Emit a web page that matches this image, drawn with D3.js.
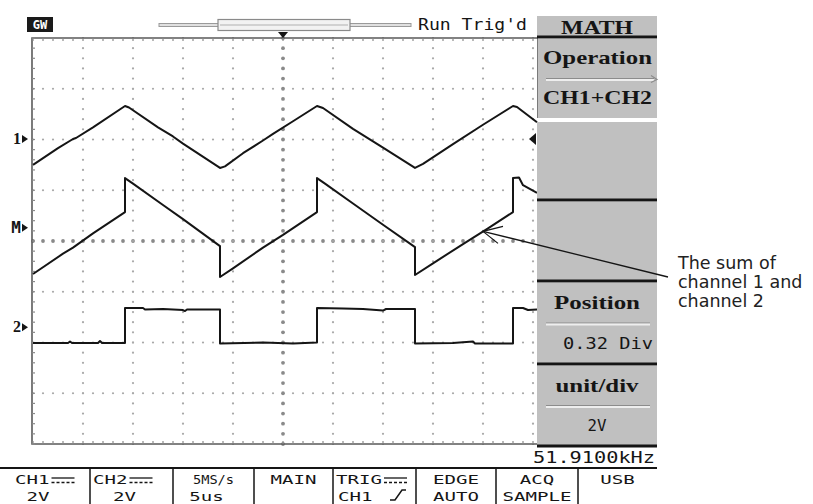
<!DOCTYPE html>
<html>
<head>
<meta charset="utf-8">
<script src="https://cdn.jsdelivr.net/npm/d3@7"></script>
<style>
  body { margin: 0; background: #fff; }
  svg { display: block; }
</style>
</head>
<body>
<div id="chart"></div>
<script>
// time in us (5 us/div), level in screen divisions from the centre line
const ch1Time = [0, 2.5, 4.0, 4.3, 6.0, 9.2, 9.6, 12.5, 14, 15, 18.7, 19.2, 21, 23, 24, 26, 28.4, 29, 32, 35, 38.2, 39, 42, 45, 48.0, 48.4, 50.4]
const ch1Level = [1.50, 1.83, 2.01, 2.03, 2.24, 2.66, 2.63, 2.24, 2.06, 1.92, 1.44, 1.47, 1.73, 1.98, 2.11, 2.36, 2.66, 2.62, 2.21, 1.84, 1.44, 1.52, 1.91, 2.29, 2.66, 2.64, 2.34]

const mathTime = [0, 3, 4, 6, 9.2, 9.2, 10, 13, 15, 18.7, 18.7, 20, 23, 25, 28.4, 28.4, 29.2, 32, 35, 38.2, 38.2, 40, 43, 45.5, 48.0, 48.0, 48.6, 49, 50.4]
const mathLevel = [-0.65, -0.25, -0.13, 0.15, 0.57, 1.24, 1.13, 0.71, 0.43, -0.10, -0.71, -0.54, -0.13, 0.12, 0.57, 1.24, 1.13, 0.74, 0.32, -0.12, -0.67, -0.44, -0.06, 0.25, 0.57, 1.24, 1.25, 1.10, 0.95]

const ch2Time = [0, 3.5, 3.7, 3.9, 6.5, 6.7, 6.9, 9.2, 9.2, 11, 11.2, 13, 15, 15.2, 15.4, 18.7, 18.7, 23, 26, 28.4, 28.4, 31, 33, 35, 35.3, 38.2, 38.2, 42, 44, 44.2, 48, 48, 49, 49.5, 50.4]
const ch2Level = [-2.01, -2.01, -1.98, -2.01, -2.01, -1.97, -2.01, -2.01, -1.32, -1.32, -1.35, -1.34, -1.36, -1.38, -1.35, -1.35, -2.02, -2.00, -2.02, -2.00, -1.32, -1.33, -1.34, -1.37, -1.34, -1.34, -2.02, -2.01, -1.98, -2.02, -2.02, -1.32, -1.32, -1.36, -1.35]

// ground markers on the left edge
const markerLabels = ['1', 'M', '2']
const markerLevels = [2.01, 0.26, -1.70]

// soft-key menu
const menuTitle = 'MATH'
const menuItems = [['Operation', 'CH1+CH2'], [], [], ['Position', '0.32 Div'], ['unit/div', '2V']]
const freqText = '51.9100kHz'
const statusText = 'Run Trig\'d'

// bottom status bar
const barTop = ['CH1', 'CH2', '5MS/s', 'MAIN', 'TRIG', 'EDGE', 'ACQ', 'USB']
const barBottom = ['2V', '2V', '5us', '', 'CH1', 'AUTO', 'SAMPLE', '']

const annotation = ['The sum of', 'channel 1 and', 'channel 2']
const annotationAt = { time: 45, level: 0.19 }

const width = 813
const height = 504
const mono = '"DejaVu Sans Mono", monospace'
const serif = '"Liberation Serif", "DejaVu Serif", serif'
const ink = '#151515'
const panelGrey = '#c0c0c0'

const svg = d3.select('#chart')
  .append('svg')
  .attr('width', width)
  .attr('height', height)
  .attr('viewBox', [0, 0, width, height].join(' '))

const x = d3.scaleLinear().domain([0, 50]).range([33, 533])
const y = d3.scaleLinear().domain([-4, 4]).range([444, 38])

// graticule
const grid = svg.append('g').attr('class', 'grid')

const minorT = d3.range(0, 50.01, 1)
const minorV = d3.range(-4, 4.01, 0.2)

d3.range(-3, 4).forEach(level => {
  const centre = level === 0
  grid.append('g')
    .selectAll('circle')
    .data(minorT)
    .join('circle')
    .attr('cx', d => x(d))
    .attr('cy', y(level))
    .attr('r', centre ? 1.9 : 1.1)
    .attr('fill', centre ? '#8a8a8a' : '#a8a8a8')
})

d3.range(5, 50.01, 5).forEach(t => {
  const centre = t === 25
  grid.append('g')
    .selectAll('circle')
    .data(minorV)
    .join('circle')
    .attr('cx', x(t))
    .attr('cy', d => y(d))
    .attr('r', centre ? 1.9 : 1.1)
    .attr('fill', centre ? '#8a8a8a' : '#a8a8a8')
})

// border with small ticks
grid.append('path')
  .attr('d', `M${x(50.4)},${y(4)}H${x(0) - 1}V${y(-4)}H${x(50.4)}`)
  .attr('fill', 'none')
  .attr('stroke', '#5a5a5a')
  .attr('stroke-width', 1.6)

grid.append('g')
  .selectAll('line')
  .data(minorT)
  .join('line')
  .attr('x1', d => x(d)).attr('x2', d => x(d))
  .attr('y1', y(4)).attr('y2', y(4) + 3)
  .attr('stroke', '#8a8a8a')
  .attr('stroke-width', 1.2)

grid.append('g')
  .selectAll('line')
  .data(minorT)
  .join('line')
  .attr('x1', d => x(d)).attr('x2', d => x(d))
  .attr('y1', y(-4)).attr('y2', y(-4) - 3)
  .attr('stroke', '#8a8a8a')
  .attr('stroke-width', 1.2)

grid.append('g')
  .selectAll('line')
  .data(minorV)
  .join('line')
  .attr('x1', x(0) - 1).attr('x2', x(0) + 2)
  .attr('y1', d => y(d)).attr('y2', d => y(d))
  .attr('stroke', '#8a8a8a')
  .attr('stroke-width', 1.2)

// traces
const traces = [
  { id: 'ch1', time: ch1Time, level: ch1Level },
  { id: 'math', time: mathTime, level: mathLevel },
  { id: 'ch2', time: ch2Time, level: ch2Level }
]

const line = d3.line()
  .x(d => x(d[0]))
  .y(d => y(d[1]))

svg.append('g')
  .attr('class', 'traces')
  .selectAll('path')
  .data(traces)
  .join('path')
  .attr('class', d => d.id)
  .attr('d', d => line(d.time.map((t, i) => [t, d.level[i]])))
  .attr('fill', 'none')
  .attr('stroke', ink)
  .attr('stroke-width', 2)
  .attr('stroke-linejoin', 'round')

// channel markers
const markers = svg.append('g').attr('class', 'markers')
markerLabels.forEach((label, i) => {
  const my = y(markerLevels[i])
  markers.append('text')
    .attr('x', 21)
    .attr('y', my + 5)
    .attr('text-anchor', 'end')
    .attr('font-family', label === 'M' ? mono : serif)
    .attr('font-weight', 'bold')
    .attr('font-size', 16)
    .attr('fill', ink)
    .text(label)
  markers.append('path')
    .attr('d', `M${22},${my - 4}L${28},${my}L${22},${my + 4}Z`)
    .attr('fill', ink)
})

// channel 1 level marker at the right edge
svg.append('path')
  .attr('d', `M${536},${y(markerLevels[0]) - 6}L${529},${y(markerLevels[0])}L${536},${y(markerLevels[0]) + 6}Z`)
  .attr('fill', ink)

// trigger position marker
svg.append('path')
  .attr('d', `M${x(25) - 5},${32}H${x(25) + 5}L${x(25)},${38}Z`)
  .attr('fill', ink)

// top status line
const topBar = svg.append('g').attr('class', 'top')
topBar.append('rect')
  .attr('x', 27).attr('y', 17).attr('width', 26).attr('height', 15)
  .attr('fill', '#1a1a1a')
topBar.append('text')
  .attr('x', 40).attr('y', 29)
  .attr('text-anchor', 'middle')
  .attr('font-family', mono)
  .attr('font-weight', 'bold')
  .attr('font-size', 12)
  .attr('fill', '#fff')
  .text('GW')

topBar.append('rect')
  .attr('x', 159).attr('y', 23.5).attr('width', 252).attr('height', 3)
  .attr('fill', '#e0e0e0')
  .attr('stroke', '#9a9a9a')
  .attr('stroke-width', 1)
topBar.append('rect')
  .attr('x', 218).attr('y', 19.5).attr('width', 132).attr('height', 11)
  .attr('fill', '#f2f2f2')
  .attr('stroke', '#8a8a8a')
  .attr('stroke-width', 1.2)
topBar.append('line')
  .attr('x1', 220).attr('x2', 348)
  .attr('y1', 25).attr('y2', 25)
  .attr('stroke', '#b0b0b0')
topBar.append('text')
  .attr('x', 418).attr('y', 30)
  .attr('font-family', mono)
  .attr('font-size', 16)
  .attr('textLength', 109)
  .attr('lengthAdjust', 'spacingAndGlyphs')
  .attr('fill', ink)
  .text(statusText)

// right soft-key menu
const menu = svg.append('g').attr('class', 'menu')
const mx0 = 537
const mx1 = 657
const mxc = (mx0 + mx1) / 2

menu.append('rect')
  .attr('x', mx0).attr('y', 16).attr('width', mx1 - mx0).attr('height', 22)
  .attr('fill', panelGrey)
menu.append('text')
  .attr('x', mxc).attr('y', 34)
  .attr('text-anchor', 'middle')
  .attr('font-family', serif)
  .attr('font-weight', 'bold')
  .attr('font-size', 19)
  .attr('textLength', 72)
  .attr('lengthAdjust', 'spacingAndGlyphs')
  .attr('fill', ink)
  .text(menuTitle)

const boxes = [[39, 118], [122, 199], [202, 280], [283, 363], [366, 445]]
const darkLines = [37, 200, 281, 364, 446]

boxes.forEach(([b0, b1], i) => {
  menu.append('rect')
    .attr('x', mx0).attr('y', b0).attr('width', mx1 - mx0).attr('height', b1 - b0)
    .attr('fill', panelGrey)
  const items = menuItems[i]
  if (items.length === 0) return
  const isOperation = i === 0
  const mid = (b0 + b1) / 2
  menu.append('text')
    .attr('x', isOperation ? mx0 + 6 : mxc)
    .attr('y', isOperation ? 64 : b0 + 26)
    .attr('text-anchor', isOperation ? 'start' : 'middle')
    .attr('font-family', serif)
    .attr('font-weight', 'bold')
    .attr('font-size', 19)
    .attr('textLength', isOperation ? 109 : (i === 3 ? 86 : 83))
    .attr('lengthAdjust', 'spacingAndGlyphs')
    .attr('fill', ink)
    .text(items[0])
  // separator line inside the key
  menu.append('line')
    .attr('x1', mx0 + 9).attr('x2', isOperation ? mx1 - 3 : mx1 - 7)
    .attr('y1', mid).attr('y2', mid)
    .attr('stroke', '#8c8c8c')
    .attr('stroke-width', 1)
  menu.append('line')
    .attr('x1', mx0 + 9).attr('x2', isOperation ? mx1 - 3 : mx1 - 7)
    .attr('y1', mid + 1.5).attr('y2', mid + 1.5)
    .attr('stroke', '#eeeeee')
    .attr('stroke-width', 2)
  if (isOperation) {
    menu.append('path')
      .attr('d', `M${mx1 - 6},${mid - 3}L${mx1},${mid + 1}L${mx1 - 6},${mid + 4}`)
      .attr('fill', 'none')
      .attr('stroke', '#8c8c8c')
      .attr('stroke-width', 1.2)
    menu.append('text')
      .attr('x', mx0 + 6).attr('y', 104)
      .attr('font-family', serif)
      .attr('font-weight', 'bold')
      .attr('font-size', 19)
      .attr('textLength', 109)
      .attr('lengthAdjust', 'spacingAndGlyphs')
      .attr('fill', ink)
      .text(items[1])
  } else {
    const long = items[1].length > 3
    menu.append('text')
      .attr('x', long ? mx0 + 26 : mxc)
      .attr('y', b1 - 14)
      .attr('text-anchor', long ? 'start' : 'middle')
      .attr('font-family', mono)
      .attr('font-size', 15)
      .attr('textLength', long ? 90 : 19)
      .attr('lengthAdjust', 'spacingAndGlyphs')
      .attr('fill', ink)
      .text(items[1])
  }
})

menu.append('line')
  .attr('x1', mx0 + 0.5).attr('x2', mx0 + 0.5)
  .attr('y1', 38).attr('y2', 118)
  .attr('stroke', '#7a7a7a')
  .attr('stroke-width', 1)

menu.selectAll('line.dark')
  .data(darkLines)
  .join('line')
  .attr('class', 'dark')
  .attr('x1', mx0).attr('x2', mx1)
  .attr('y1', d => d).attr('y2', d => d)
  .attr('stroke', '#151515')
  .attr('stroke-width', 3)

svg.append('text')
  .attr('x', 533).attr('y', 463)
  .attr('font-family', mono)
  .attr('font-size', 16)
  .attr('textLength', 122)
  .attr('lengthAdjust', 'spacingAndGlyphs')
  .attr('fill', ink)
  .text(freqText)

// bottom status bar
const bar = svg.append('g').attr('class', 'bar')
const cellEdges = [0, 90, 173, 254, 333, 416, 496, 578, 657]

bar.append('line')
  .attr('x1', 0).attr('x2', mx1)
  .attr('y1', 468).attr('y2', 468)
  .attr('stroke', '#151515')
  .attr('stroke-width', 2)

bar.selectAll('line.sep')
  .data(cellEdges.slice(1, -1))
  .join('line')
  .attr('class', 'sep')
  .attr('x1', d => d).attr('x2', d => d)
  .attr('y1', 468).attr('y2', height)
  .attr('stroke', '#151515')
  .attr('stroke-width', 1.5)

const dcCells = [0, 1, 4]
barTop.forEach((label, i) => {
  const c = (cellEdges[i] + cellEdges[i + 1]) / 2
  const hasDc = dcCells.includes(i)
  const tx = hasDc ? cellEdges[i] + (i === 0 ? 15 : 3) : c
  bar.append('text')
    .attr('x', tx).attr('y', 484)
    .attr('text-anchor', hasDc ? 'start' : 'middle')
    .attr('font-family', mono)
    .attr('font-size', 13)
    .attr('textLength', label.length * (label === '5MS/s' ? 8.2 : 11.5))
    .attr('lengthAdjust', 'spacingAndGlyphs')
    .attr('fill', ink)
    .text(label)
  if (hasDc) {
    const sx = tx + label.length * 11.5 + 2
    bar.append('line')
      .attr('x1', sx).attr('x2', sx + 23)
      .attr('y1', 478).attr('y2', 478)
      .attr('stroke', ink).attr('stroke-width', 1.3)
    bar.append('line')
      .attr('x1', sx).attr('x2', sx + 23)
      .attr('y1', 482.5).attr('y2', 482.5)
      .attr('stroke', ink).attr('stroke-width', 1.3)
      .attr('stroke-dasharray', '3,2')
  }
  const low = barBottom[i]
  if (!low) return
  const lx = i === 4 ? cellEdges[i] + 5 : c - (i < 3 ? 7 : 0)
  bar.append('text')
    .attr('x', lx).attr('y', 501)
    .attr('text-anchor', i === 4 ? 'start' : 'middle')
    .attr('font-family', mono)
    .attr('font-size', 13)
    .attr('textLength', low.length * 11.5)
    .attr('lengthAdjust', 'spacingAndGlyphs')
    .attr('fill', ink)
    .text(low)
  if (i === 4) {
    bar.append('path')
      .attr('d', `M${cellEdges[i] + 57},${500}H${cellEdges[i] + 62}L${cellEdges[i] + 69},${490}H${cellEdges[i] + 73}`)
      .attr('fill', 'none')
      .attr('stroke', ink)
      .attr('stroke-width', 1.5)
  }
})

// annotation with arrow
const ann = svg.append('g').attr('class', 'annotation')
const ax = x(annotationAt.time)
const ay = y(annotationAt.level)
ann.append('line')
  .attr('x1', ax).attr('y1', ay)
  .attr('x2', 668).attr('y2', 277)
  .attr('stroke', ink)
  .attr('stroke-width', 1.3)
ann.append('path')
  .attr('d', `M${ax + 20},${ay - 5}L${ax},${ay}L${ax + 15},${ay + 12}`)
  .attr('fill', 'none')
  .attr('stroke', ink)
  .attr('stroke-width', 1.2)

ann.selectAll('text')
  .data(annotation)
  .join('text')
  .attr('x', 678)
  .attr('y', (d, i) => 269 + i * 19)
  .attr('font-family', '"DejaVu Sans", Verdana, sans-serif')
  .attr('font-size', 17.5)
  .attr('fill', '#222')
  .text(d => d)
</script>
</body>
</html>
